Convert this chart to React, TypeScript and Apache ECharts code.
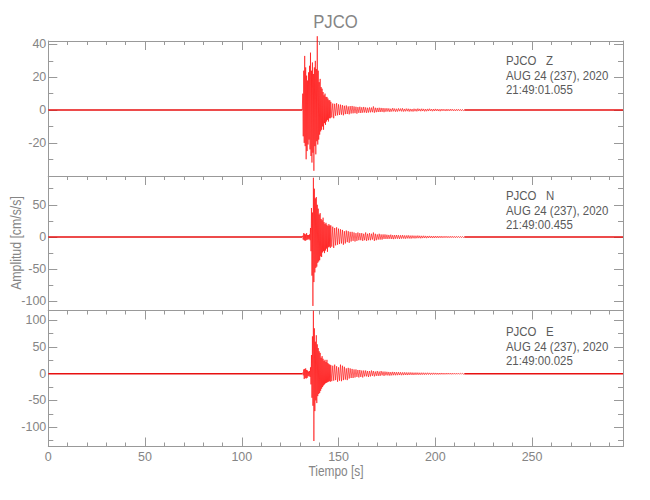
import React, { useEffect, useRef } from "react";
import * as echarts from "echarts";

// ---- time axis (s) ----
const T_END = 297;
const xMajor = [0, 50, 100, 150, 200, 250];
const xMinor = [10, 20, 30, 40, 60, 70, 80, 90, 110, 120, 130, 140, 160, 170, 180, 190, 210, 220, 230, 240, 260, 270, 280, 290];

// ---- y ticks ----
const zMajor = [-20, 0, 20, 40];
const zMinor = [-30, -10, 10, 30];
const nMajor = [-100, -50, 0, 50];
const nMinor = [-75, -25, 25, 75];
const eMajor = [-100, -50, 0, 50, 100];
const eMinor = [-125, -75, -25, 25, 75];

// ---- sampling of the hand-read traces ----
const BURST_START = 131.5;
const BURST_STEP = 0.25;
const CODA_START = 146;
const CODA_STEP = 0.5;
const TAIL_START = 175;
const TAIL_STEP = 0.5;

// Z component (cm/s/s)
const zBurst = [10, -16, 24, -20, 33, -22, 26, -30, 21, -25, 18, -21, 23, -18, 27, -24, 35, -28, 24, -32, 29, -26, 22, -37, 26, -22, 30, -27, 25, -19, 45, -21, 24, -18, 17, -15, 19, -13, 14, -12, 13, -10, 11, -12, 9, -8, 10, -9, 8, -7, 8, -6, 7, -7, 6, -5, 6, -5];
const zCoda = [5, -4.5, 4, -5, 3.8, -3.5, 4.2, -3.2, 3.5, -3, 3.3, -2.8, 3, -3.2, 2.6, -2.5, 2.8, -2.4, 2.2, -2.6, 2.4, -2.1, 2.5, -2, 2.2, -1.9, 2, -2.2, 1.8, -1.7, 2, -1.8, 1.7, -1.6, 1.9, -1.5, 1.6, -1.7, 1.4, -1.5, 1.6, -1.4, 1.5, -1.3, 2.2, -1.6, 1.4, -1.3, 1.3, -1.2, 1.4, -1.2, 1.3, -1.1, 1.2, -1.3, 1.1, -1];
const zTail = [1.1, -0.9, 1, -1.1, 0.8, -0.9, 1.2, -0.8, 0.9, -1, 0.8, -0.9, 1, -0.7, 0.9, -0.8, 1.1, -0.9, 0.7, -0.8, 0.9, -0.7, 0.8, -0.9, 0.7, -0.8, 0.6, -0.9, 0.8, -0.7, 0.7, -0.8, 0.9, -0.6, 0.7, -0.7, 0.8, -0.6, 0.7, -0.8, 0.6, -0.7, 0.7, -0.6, 0.8, -0.5, 0.6, -0.7, 0.6, -0.6, 0.7, -0.5, 0.6, -0.6, 0.5, -0.7, 0.6, -0.5, 0.6, -0.5, 0.5, -0.6, 0.6, -0.5, 0.5, -0.5, 0.6, -0.4, 0.5, -0.5, 0.4, -0.5, 0.5, -0.4, 0.5, -0.4, 0.4, -0.5, 0.4, -0.4];

// N component
const nBurst = [2, -4, 6, -5, 5, -6, 4, -5, 6, -4, 3, -4, 3, -3, 4, -5, 14, -22, 45, -60, 38, -107, 92, -70, 75, -55, 60, -48, 62, -46, 50, -40, 44, -38, 35, -36, 37, -30, 28, -31, 26, -24, 30, -22, 23, -25, 20, -21, 22, -18, 19, -23, 17, -16, 20, -15, 18, -17];
const nCoda = [18, -15, 16, -17, 14, -13, 15, -12, 13, -11, 12, -10, 11, -12, 9, -10, 10, -8, 9, -9, 8, -7, 8, -6, 7, -7, 6, -6, 7, -5, 6, -5, 6, -6, 5, -5, 7, -6, 5, -5, 6, -5, 5, -4, 7, -6, 5, -5, 4, -4, 5, -4, 4, -4, 4, -3, 4, -3];
const nTail = [3.5, -3, 3.2, -2.8, 3.6, -3.1, 2.9, -3.3, 3, -2.7, 3.1, -2.6, 2.8, -3, 2.6, -2.5, 2.9, -2.4, 2.5, -2.7, 2.4, -2.2, 2.6, -2.3, 2.2, -2.4, 2.3, -2, 2.1, -2.2, 2, -1.9, 2.2, -1.8, 1.9, -2, 1.8, -1.7, 1.9, -1.6, 1.7, -1.8, 1.6, -1.5, 1.7, -1.4, 1.5, -1.6, 1.4, -1.5, 1.5, -1.3, 1.4, -1.4, 1.3, -1.2, 1.4, -1.3, 1.2, -1.2, 1.3, -1.1, 1.2, -1.2, 1.1, -1.1, 1.2, -1, 1.1, -1, 1, -1.1, 1, -0.9, 1, -0.9, 0.9, -1, 0.9, -0.8];

// E component
const eBurst = [2, -3, 8, -10, 9, -8, 10, -9, 7, -8, 6, -5, 4, -4, 5, -6, 12, -20, 35, -45, 70, -60, 118, -126, 85, -70, 60, -50, 72, -55, 55, -42, 48, -38, 42, -36, 39, -32, 30, -28, 33, -25, 28, -22, 24, -20, 26, -18, 22, -17, 26, -16, 20, -15, 18, -14, 17, -15];
const eCoda = [16, -14, 15, -13, 17, -12, 14, -15, 12, -13, 17, -14, 15, -12, 13, -11, 10, -12, 11, -9, 10, -8, 9, -8, 8, -7, 8, -6, 7, -7, 7, -6, 6, -7, 6, -5, 6, -5, 5, -6, 5, -5, 6, -4, 5, -5, 4, -4, 5, -4, 4, -4, 5, -3, 4, -4, 4, -3];
const eTail = [3.6, -3.2, 3.3, -3.5, 3, -3.1, 3.4, -2.8, 3.1, -2.9, 2.9, -2.7, 3, -2.5, 2.7, -2.8, 2.5, -2.6, 2.6, -2.3, 2.4, -2.5, 2.3, -2.2, 2.4, -2.1, 2.2, -2.3, 2, -2.1, 2.1, -1.9, 2, -2, 1.8, -1.9, 1.9, -1.7, 1.8, -1.8, 1.7, -1.6, 1.8, -1.5, 1.6, -1.7, 1.5, -1.5, 1.6, -1.4, 1.5, -1.4, 1.4, -1.5, 1.3, -1.3, 1.4, -1.2, 1.3, -1.3, 1.2, -1.2, 1.3, -1.1, 1.2, -1.1, 1.1, -1.2, 1.1, -1, 1, -1.1, 1, -1, 1, -0.9, 0.9, -1, 0.9, -0.9];

const stationName = "PJCO";
const headerDate = "AUG 24 (237), 2020";
const startTimes = ["21:49:01.055", "21:49:00.455", "21:49:00.025"];
const components = ["Z", "N", "E"];

const FONT = "'Liberation Sans', Arial, sans-serif";
const AXIS = "#999999";
const LABEL = "#858585";
const TEXT = "#5a5a5a";
const RED = "#ff0000";

const tailEnd = (tail: number[]) => TAIL_START + tail.length * TAIL_STEP;

function buildEvent(burst: number[], coda: number[], tail: number[]) {
  const pts: number[][] = [[BURST_START - BURST_STEP, 0]];
  burst.forEach((v, i) => pts.push([BURST_START + i * BURST_STEP, v]));
  coda.forEach((v, i) => pts.push([CODA_START + i * CODA_STEP, v]));
  tail.forEach((v, i) => pts.push([TAIL_START + i * TAIL_STEP, v]));
  pts.push([tailEnd(tail), 0]);
  return pts;
}

function buildQuiet(tail: number[]) {
  return [[0, 0], [BURST_START - BURST_STEP, 0], [null, null], [tailEnd(tail), 0], [T_END, 0]];
}

const panels = [
  { top: 41, height: 135, min: -40.2, max: 42.1, major: zMajor, minor: zMinor, burst: zBurst, coda: zCoda, tail: zTail, textY: 61 },
  { top: 176, height: 134.5, min: -114.1, max: 94.7, major: nMajor, minor: nMinor, burst: nBurst, coda: nCoda, tail: nTail, textY: 196 },
  { top: 310.5, height: 136, min: -136.3, max: 118.4, major: eMajor, minor: eMinor, burst: eBurst, coda: eCoda, tail: eTail, textY: 332 },
];

function buildOption() {
  const grid: any[] = [];
  const xAxis: any[] = [];
  const yAxis: any[] = [];
  const series: any[] = [];
  const graphic: any[] = [];
  const lineStyle = { color: AXIS, width: 1 };
  const label = { color: LABEL, fontFamily: FONT, fontSize: 12.5 };

  panels.forEach((p, i) => {
    const last = i === panels.length - 1;
    grid.push({ left: 48.3, right: 27, top: p.top, height: p.height });
    const xb = { type: "value", gridIndex: i, min: 0, max: T_END, splitLine: { show: false } };
    xAxis.push({
      ...xb, position: "bottom",
      axisLine: { show: true, onZero: false, lineStyle },
      axisTick: { show: last, inside: true, length: 9, customValues: xMajor, lineStyle },
      axisLabel: { show: last, customValues: xMajor, margin: 4, ...label },
    });
    xAxis.push({
      ...xb, position: "top",
      axisLine: { show: true, onZero: false, lineStyle },
      axisTick: { show: true, inside: true, length: 9, customValues: xMajor, lineStyle },
      axisLabel: { show: false },
    });
    xAxis.push({
      ...xb, position: "top",
      axisLine: { show: false, onZero: false },
      axisTick: { show: true, inside: true, length: 4, customValues: xMinor, lineStyle },
      axisLabel: { show: false },
    });
    xAxis.push({
      ...xb, position: "bottom",
      axisLine: { show: false, onZero: false },
      axisTick: { show: last, inside: true, length: 4, customValues: xMinor, lineStyle },
      axisLabel: { show: false },
    });

    const yb = { type: "value", gridIndex: i, min: p.min, max: p.max, splitLine: { show: false } };
    yAxis.push({
      ...yb, position: "left",
      axisLine: { show: true, onZero: false, lineStyle },
      axisTick: { show: true, inside: true, length: 9, customValues: p.major, lineStyle },
      axisLabel: { show: true, customValues: p.major, margin: 2, ...label },
    });
    yAxis.push({
      ...yb, position: "left",
      axisLine: { show: false, onZero: false },
      axisTick: { show: true, inside: true, length: 5, customValues: p.minor, lineStyle },
      axisLabel: { show: false },
    });
    yAxis.push({
      ...yb, position: "right",
      axisLine: { show: true, onZero: false, lineStyle },
      axisTick: { show: true, inside: true, length: 9, customValues: p.major, lineStyle },
      axisLabel: { show: false },
    });
    yAxis.push({
      ...yb, position: "right",
      axisLine: { show: false, onZero: false },
      axisTick: { show: true, inside: true, length: 5, customValues: p.minor, lineStyle },
      axisLabel: { show: false },
    });

    series.push({
      type: "line",
      name: components[i] + " quiet",
      xAxisIndex: i * 4,
      yAxisIndex: i * 4,
      data: buildQuiet(p.tail),
      showSymbol: false,
      symbol: "none",
      connectNulls: false,
      silent: true,
      lineStyle: { color: "#e81010", width: 1.6 },
      z: 1,
    });
    series.push({
      type: "line",
      name: components[i],
      xAxisIndex: i * 4,
      yAxisIndex: i * 4,
      data: buildEvent(p.burst, p.coda, p.tail),
      showSymbol: false,
      symbol: "none",
      clip: false,
      silent: true,
      lineStyle: { color: RED, width: 0.6 },
      z: 2,
    });

    const lines = [`${stationName}   ${components[i]}`, headerDate, startTimes[i]];
    lines.forEach((t, k) => {
      graphic.push({
        type: "text",
        x: 506,
        y: p.textY + k * 14.5,
        scaleX: 0.88,
        style: { text: t, fill: TEXT, font: `13px ${FONT}`, verticalAlign: "middle", textAlign: "left" },
        z: 10,
      });
    });
  });

  graphic.push({
    type: "text", x: 335.5, y: 22, scaleX: 0.88,
    style: { text: stationName, fill: LABEL, font: `19px ${FONT}`, textAlign: "center", verticalAlign: "middle" },
  });
  graphic.push({
    type: "text", x: 336, y: 471, scaleX: 0.85,
    style: { text: "Tiempo [s]", fill: LABEL, font: `14px ${FONT}`, textAlign: "center", verticalAlign: "middle" },
  });
  graphic.push({
    type: "text", x: 16, y: 243, rotation: Math.PI / 2, scaleX: 0.88,
    style: { text: "Amplitud [cm/s/s]", fill: LABEL, font: `14px ${FONT}`, textAlign: "center", verticalAlign: "middle" },
  });

  return {
    animation: false,
    backgroundColor: "#ffffff",
    grid, xAxis, yAxis, series, graphic,
  };
}

export default function App() {
  const ref = useRef<HTMLDivElement>(null);
  useEffect(() => {
    if (!ref.current) return;
    const chart = echarts.init(ref.current, undefined, { renderer: "svg" });
    chart.setOption(buildOption() as any);
    return () => chart.dispose();
  }, []);
  return <div ref={ref} style={{ position: "fixed", left: 0, top: 0, width: 650, height: 500 }} />;
}
